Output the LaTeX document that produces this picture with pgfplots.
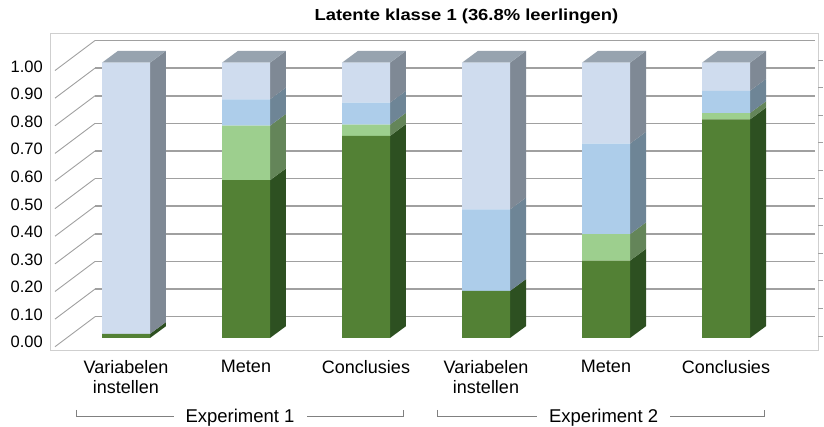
\documentclass[border=0pt]{standalone}
\usepackage{fontspec}
\setmainfont{Liberation Sans}
\usepackage{pgfplots}
\usepackage{pgfplotstable}
\pgfplotsset{compat=1.18}
\definecolor{dg}{HTML}{538135}
\definecolor{lg}{HTML}{9DCF8E}
\definecolor{mb}{HTML}{ADCDEA}
\definecolor{lb}{HTML}{CFDCEE}
\definecolor{dgs}{HTML}{2D5021}
\definecolor{lgs}{HTML}{648559}
\definecolor{mbs}{HTML}{6E8596}
\definecolor{lbs}{HTML}{7F8995}
\definecolor{topc}{HTML}{97A3AF}
\definecolor{gridc}{HTML}{A0A0A0}
\definecolor{borderc}{HTML}{CFCFCF}

% fraction of pupils per category (stacked: dg, lg, mb, lb)
\pgfplotstableread{
x dg lg mb lb
0 0.015 0.000 0.000 0.985
1 0.573 0.198 0.096 0.133
2 0.734 0.041 0.080 0.145
3 0.171 0.000 0.296 0.533
4 0.281 0.096 0.329 0.294
5 0.794 0.023 0.081 0.102
}\data

\pgfplotsset{base/.style={scale only axis, width=767pt, height=316pt,
  xmin=-0.625, xmax=5.7667, ymin=-0.0436, ymax=1.1042,
  at={(51pt,-350pt)}, anchor=south west}}

\begin{document}
\begin{tikzpicture}
\path[use as bounding box] (0,0) rectangle (824pt,-427pt);
\begin{axis}[base, clip=false,
  axis line style={borderc, line width=1pt},
  major tick length=0pt,
  ytick={0,0.1,0.2,0.3,0.4,0.5,0.6,0.7,0.8,0.9,1.0},
  yticklabel style={/pgf/number format/.cd, fixed, fixed zerofill, precision=2, assume math mode=true,
    /tikz/.cd, font=\fontsize{16.5}{19}\selectfont, anchor=east, inner sep=0pt, xshift=-8pt, yshift=-4pt},
  xtick={0,1,2,3,4,5},
  xticklabels={{Variabelen\\instellen},Meten,Conclusies,{Variabelen\\instellen},Meten,Conclusies},
  xticklabel style={align=center, font=\fontsize{18}{20.5}\selectfont, anchor=north, inner sep=0pt, yshift=-10pt},
  ]
  % back wall gridlines, left wall lines, right-side ticks
  \pgfplotsinvokeforeach{0,...,10}{
    \draw[gridc, line width=1.6pt] (axis cs:-0.2583,{0.0774+0.1003*#1}) -- (axis cs:5.742,{0.0774+0.1003*#1});
    \draw[gridc, line width=0.9pt] (axis cs:-0.5917,{0.0774+0.1003*#1-0.109}) -- (axis cs:-0.2583,{0.0774+0.1003*#1});
    \draw[gridc, line width=0.8pt] (axis cs:5.7667,{1.0098-0.10025*#1}) -- (axis cs:5.808,{1.0098-0.10025*#1});
  }
  % side and top faces
  \addplot[fill=dgs, draw=none, forget plot] coordinates {(0.2,0) (0.3333,0.043) (0.3333,0.058) (0.2,0.015)} --cycle;
  \addplot[fill=lbs, draw=none, forget plot] coordinates {(0.2,0.015) (0.3333,0.058) (0.3333,1.043) (0.2,1)} --cycle;
  \addplot[fill=topc, draw=none, forget plot] coordinates {(-0.2,1) (-0.0667,1.043) (0.3333,1.043) (0.2,1)} --cycle;

  \addplot[fill=dgs, draw=none, forget plot] coordinates {(1.2,0) (1.3333,0.043) (1.3333,0.616) (1.2,0.573)} --cycle;
  \addplot[fill=lgs, draw=none, forget plot] coordinates {(1.2,0.573) (1.3333,0.616) (1.3333,0.814) (1.2,0.771)} --cycle;
  \addplot[fill=mbs, draw=none, forget plot] coordinates {(1.2,0.771) (1.3333,0.814) (1.3333,0.910) (1.2,0.867)} --cycle;
  \addplot[fill=lbs, draw=none, forget plot] coordinates {(1.2,0.867) (1.3333,0.910) (1.3333,1.043) (1.2,1)} --cycle;
  \addplot[fill=topc, draw=none, forget plot] coordinates {(0.8,1) (0.9333,1.043) (1.3333,1.043) (1.2,1)} --cycle;

  \addplot[fill=dgs, draw=none, forget plot] coordinates {(2.2,0) (2.3333,0.043) (2.3333,0.777) (2.2,0.734)} --cycle;
  \addplot[fill=lgs, draw=none, forget plot] coordinates {(2.2,0.734) (2.3333,0.777) (2.3333,0.818) (2.2,0.775)} --cycle;
  \addplot[fill=mbs, draw=none, forget plot] coordinates {(2.2,0.775) (2.3333,0.818) (2.3333,0.898) (2.2,0.855)} --cycle;
  \addplot[fill=lbs, draw=none, forget plot] coordinates {(2.2,0.855) (2.3333,0.898) (2.3333,1.043) (2.2,1)} --cycle;
  \addplot[fill=topc, draw=none, forget plot] coordinates {(1.8,1) (1.9333,1.043) (2.3333,1.043) (2.2,1)} --cycle;

  \addplot[fill=dgs, draw=none, forget plot] coordinates {(3.2,0) (3.3333,0.043) (3.3333,0.214) (3.2,0.171)} --cycle;
  \addplot[fill=mbs, draw=none, forget plot] coordinates {(3.2,0.171) (3.3333,0.214) (3.3333,0.510) (3.2,0.467)} --cycle;
  \addplot[fill=lbs, draw=none, forget plot] coordinates {(3.2,0.467) (3.3333,0.510) (3.3333,1.043) (3.2,1)} --cycle;
  \addplot[fill=topc, draw=none, forget plot] coordinates {(2.8,1) (2.9333,1.043) (3.3333,1.043) (3.2,1)} --cycle;

  \addplot[fill=dgs, draw=none, forget plot] coordinates {(4.2,0) (4.3333,0.043) (4.3333,0.324) (4.2,0.281)} --cycle;
  \addplot[fill=lgs, draw=none, forget plot] coordinates {(4.2,0.281) (4.3333,0.324) (4.3333,0.420) (4.2,0.377)} --cycle;
  \addplot[fill=mbs, draw=none, forget plot] coordinates {(4.2,0.377) (4.3333,0.420) (4.3333,0.749) (4.2,0.706)} --cycle;
  \addplot[fill=lbs, draw=none, forget plot] coordinates {(4.2,0.706) (4.3333,0.749) (4.3333,1.043) (4.2,1)} --cycle;
  \addplot[fill=topc, draw=none, forget plot] coordinates {(3.8,1) (3.9333,1.043) (4.3333,1.043) (4.2,1)} --cycle;

  \addplot[fill=dgs, draw=none, forget plot] coordinates {(5.2,0) (5.3333,0.043) (5.3333,0.837) (5.2,0.794)} --cycle;
  \addplot[fill=lgs, draw=none, forget plot] coordinates {(5.2,0.794) (5.3333,0.837) (5.3333,0.860) (5.2,0.817)} --cycle;
  \addplot[fill=mbs, draw=none, forget plot] coordinates {(5.2,0.817) (5.3333,0.860) (5.3333,0.941) (5.2,0.898)} --cycle;
  \addplot[fill=lbs, draw=none, forget plot] coordinates {(5.2,0.898) (5.3333,0.941) (5.3333,1.043) (5.2,1)} --cycle;
  \addplot[fill=topc, draw=none, forget plot] coordinates {(4.8,1) (4.9333,1.043) (5.3333,1.043) (5.2,1)} --cycle;

  % group brackets
  \draw[gray, line width=0.8pt] (axis cs:-0.4167,-0.2615) -- (axis cs:-0.4167,-0.2859) -- (axis cs:2.3083,-0.2859) -- (axis cs:2.3083,-0.2615);
  \draw[gray, line width=0.8pt] (axis cs:2.5917,-0.2615) -- (axis cs:2.5917,-0.2859) -- (axis cs:5.3167,-0.2859) -- (axis cs:5.3167,-0.2615);
  \node[fill=white, inner xsep=12pt, inner ysep=1pt, anchor=base, font=\fontsize{18.5}{21}\selectfont] at (axis cs:0.95,-0.3087) {Experiment 1};
  \node[fill=white, inner xsep=12pt, inner ysep=1pt, anchor=base, font=\fontsize{18.5}{21}\selectfont] at (axis cs:3.98,-0.3087) {Experiment 2};
  % title
  \node[anchor=base, font=\bfseries\fontsize{16}{19}\selectfont] at (axis cs:2.8375,1.1526) {\scalebox{1.15}[1]{Latente klasse 1 (36.8\% leerlingen)}};
\end{axis}
\begin{axis}[base, hide axis, ybar stacked, bar width=48pt]
  \addplot[fill=dg, draw=none] table[x=x, y=dg] {\data};
  \addplot[fill=lg, draw=none] table[x=x, y=lg] {\data};
  \addplot[fill=mb, draw=none] table[x=x, y=mb] {\data};
  \addplot[fill=lb, draw=none] table[x=x, y=lb] {\data};
\end{axis}
\end{tikzpicture}
\end{document}
